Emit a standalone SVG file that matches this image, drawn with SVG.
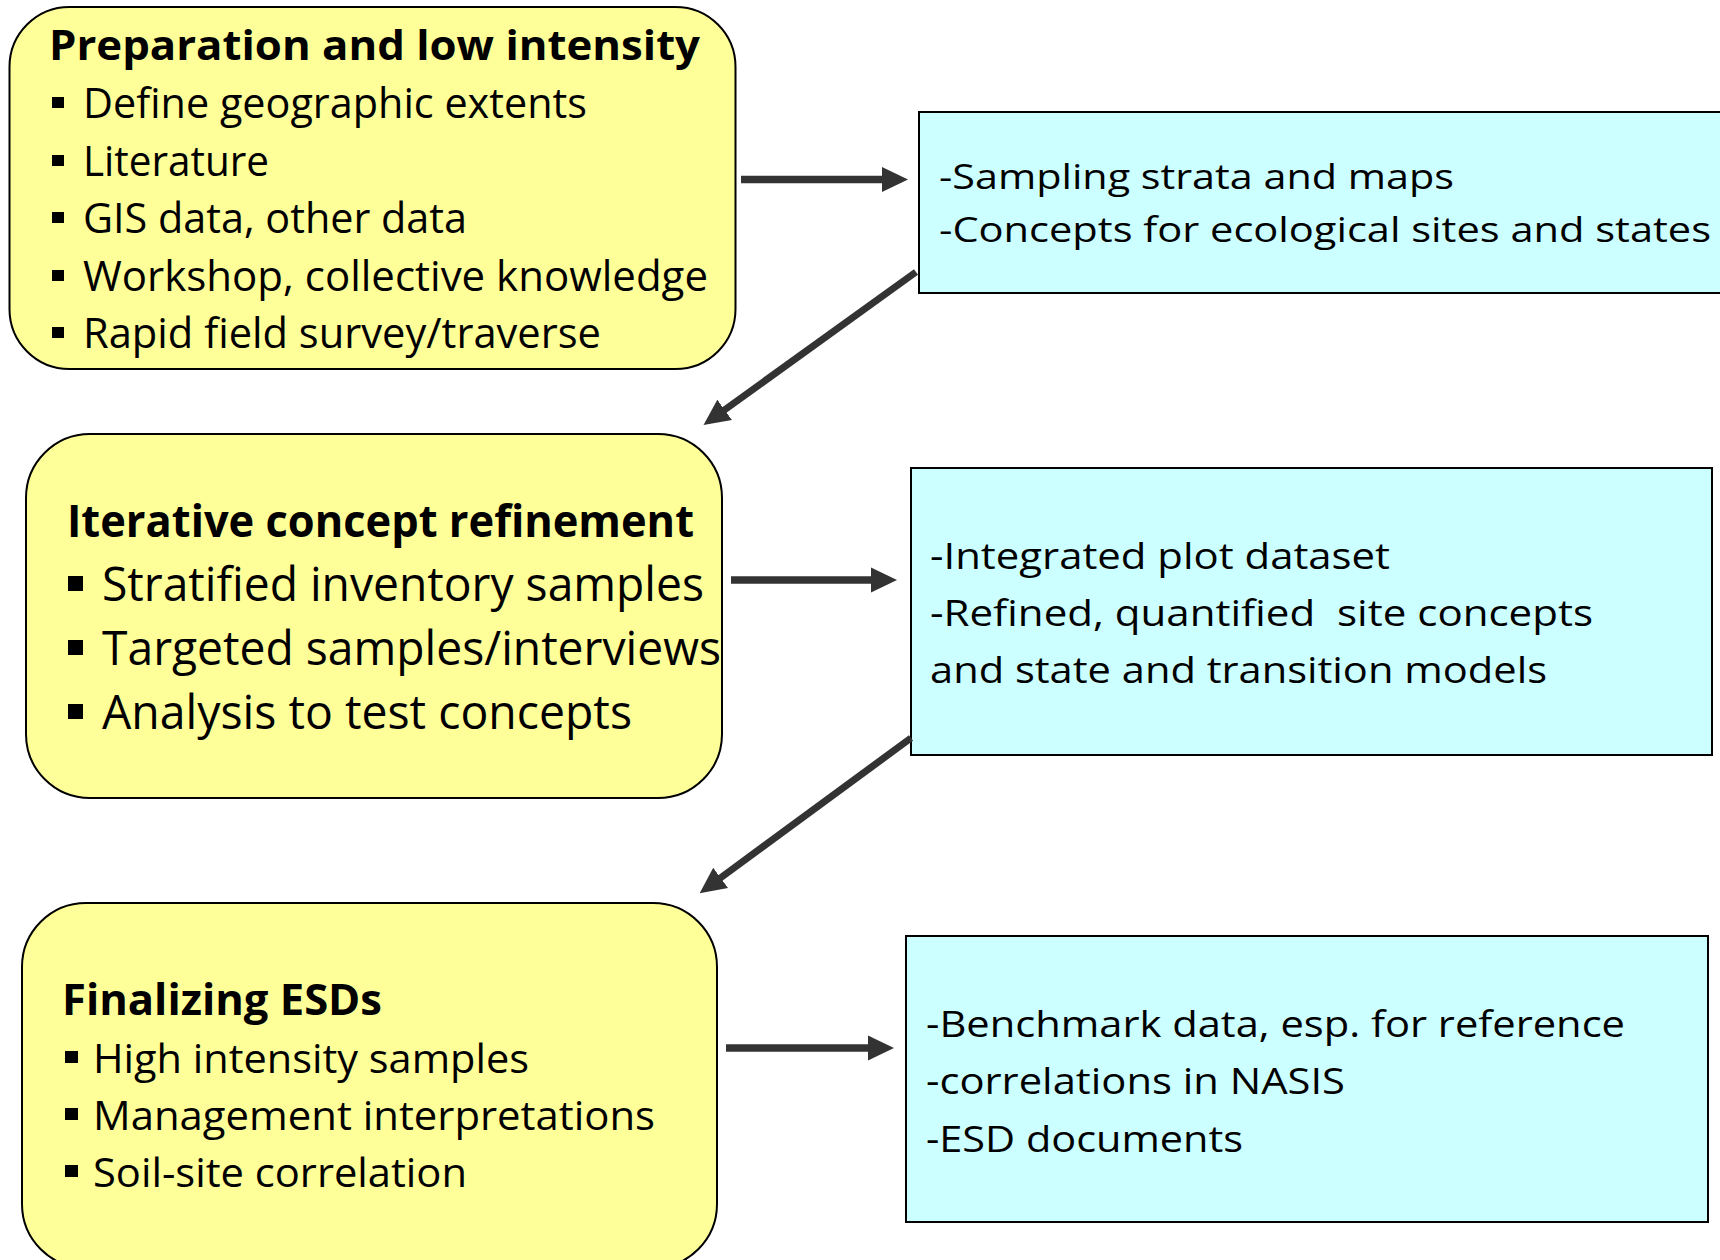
<svg xmlns="http://www.w3.org/2000/svg" width="1720" height="1260" viewBox="0 0 1720 1260">
  <style>
    .stage { fill: #FFFF99; stroke: #000; stroke-width: 2; }
    .out { fill: #CCFFFF; stroke: #000; stroke-width: 2; }
    text { font-family: "Open Sans", "Noto Sans", "DejaVu Sans", sans-serif; fill: #000; }
    .title { font-weight: bold; }
    .bul { fill: #000; }
    .conn { stroke: #333; fill: none; }
  </style>
  <defs>
    <marker id="head" markerUnits="userSpaceOnUse" viewBox="0 0 26 26" refX="2" refY="13" markerWidth="26" markerHeight="26" orient="auto">
      <path d="M0,0.5 L26,13 L0,25.5 Z" fill="#333"/>
    </marker>
  </defs>

  <rect width="1720" height="1260" fill="#fff"/>

  <!-- Stage 1 -->
  <g id="stage-preparation">
    <rect class="stage" x="9.5" y="7" width="726" height="362" rx="60" ry="60"/>
    <text class="title" x="49" y="60" font-size="42" textLength="651" lengthAdjust="spacingAndGlyphs">Preparation and low intensity</text>
    <g font-size="42.5">
      <rect class="bul" x="52" y="97" width="12" height="11"/>
      <text x="83" y="118" textLength="504" lengthAdjust="spacingAndGlyphs">Define geographic extents</text>
      <rect class="bul" x="52" y="155" width="12" height="11"/>
      <text x="83" y="176" textLength="186" lengthAdjust="spacingAndGlyphs">Literature</text>
      <rect class="bul" x="52" y="212" width="12" height="11"/>
      <text x="83" y="233" textLength="384" lengthAdjust="spacingAndGlyphs">GIS data, other data</text>
      <rect class="bul" x="52" y="270" width="12" height="11"/>
      <text x="83" y="291" textLength="625" lengthAdjust="spacingAndGlyphs">Workshop, collective knowledge</text>
      <rect class="bul" x="52" y="327" width="12" height="11"/>
      <text x="83" y="348" textLength="518" lengthAdjust="spacingAndGlyphs">Rapid field survey/traverse</text>
    </g>
  </g>

  <!-- Output 1 -->
  <g id="output-strata">
    <rect class="out" x="919" y="112" width="810" height="181"/>
    <g font-size="35.5">
      <text x="939" y="189" textLength="515" lengthAdjust="spacingAndGlyphs">-Sampling strata and maps</text>
      <text x="939" y="242" textLength="772" lengthAdjust="spacingAndGlyphs">-Concepts for ecological sites and states</text>
    </g>
  </g>

  <!-- Stage 2 -->
  <g id="stage-refinement">
    <rect class="stage" x="26" y="434" width="696" height="364" rx="64" ry="64"/>
    <text class="title" x="67" y="537" font-size="45" textLength="627" lengthAdjust="spacingAndGlyphs">Iterative concept refinement</text>
    <g font-size="47">
      <rect class="bul" x="68" y="576" width="15" height="15"/>
      <text x="102" y="601" textLength="602" lengthAdjust="spacingAndGlyphs">Stratified inventory samples</text>
      <rect class="bul" x="68" y="640" width="15" height="15"/>
      <text x="102" y="665" textLength="619" lengthAdjust="spacingAndGlyphs">Targeted samples/interviews</text>
      <rect class="bul" x="68" y="704" width="15" height="15"/>
      <text x="102" y="729" textLength="530" lengthAdjust="spacingAndGlyphs">Analysis to test concepts</text>
    </g>
  </g>

  <!-- Output 2 -->
  <g id="output-concepts">
    <rect class="out" x="911" y="468" width="801" height="287"/>
    <g font-size="36">
      <text x="930" y="569" textLength="460" lengthAdjust="spacingAndGlyphs">-Integrated plot dataset</text>
      <text x="930" y="626" textLength="663" lengthAdjust="spacingAndGlyphs" xml:space="preserve">-Refined, quantified  site concepts</text>
      <text x="930" y="683" textLength="617" lengthAdjust="spacingAndGlyphs">and state and transition models</text>
    </g>
  </g>

  <!-- Stage 3 -->
  <g id="stage-finalizing">
    <rect class="stage" x="22" y="903" width="695" height="365" rx="64" ry="64"/>
    <text class="title" x="62" y="1015" font-size="43.5" textLength="320" lengthAdjust="spacingAndGlyphs">Finalizing ESDs</text>
    <g font-size="41">
      <rect class="bul" x="65" y="1051" width="13" height="12"/>
      <text x="93" y="1073" textLength="436" lengthAdjust="spacingAndGlyphs">High intensity samples</text>
      <rect class="bul" x="65" y="1108" width="13" height="12"/>
      <text x="93" y="1130" textLength="562" lengthAdjust="spacingAndGlyphs">Management interpretations</text>
      <rect class="bul" x="65" y="1165" width="13" height="12"/>
      <text x="93" y="1187" textLength="374" lengthAdjust="spacingAndGlyphs">Soil-site correlation</text>
    </g>
  </g>

  <!-- Output 3 -->
  <g id="output-esd">
    <rect class="out" x="906" y="936" width="802" height="286"/>
    <g font-size="36">
      <text x="926" y="1037" textLength="699" lengthAdjust="spacingAndGlyphs">-Benchmark data, esp. for reference</text>
      <text x="926" y="1094" textLength="419" lengthAdjust="spacingAndGlyphs">-correlations in NASIS</text>
      <text x="926" y="1152" textLength="317" lengthAdjust="spacingAndGlyphs">-ESD documents</text>
    </g>
  </g>

  <!-- Connectors -->
  <g id="connectors">
    <line class="conn" x1="741" y1="179.5" x2="884" y2="179.5" stroke-width="7.5" marker-end="url(#head)"/>
    <line class="conn" x1="916" y1="272" x2="723" y2="411" stroke-width="7" marker-end="url(#head)"/>
    <line class="conn" x1="731" y1="580" x2="873" y2="580" stroke-width="7.5" marker-end="url(#head)"/>
    <line class="conn" x1="911" y1="738" x2="719" y2="879" stroke-width="7" marker-end="url(#head)"/>
    <line class="conn" x1="726" y1="1048" x2="870" y2="1048" stroke-width="7.5" marker-end="url(#head)"/>
  </g>
</svg>
